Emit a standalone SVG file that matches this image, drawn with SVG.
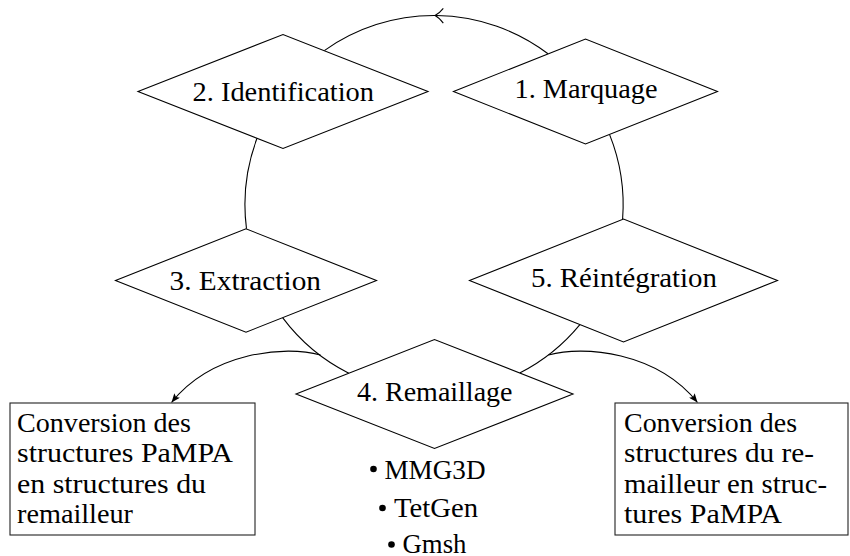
<svg xmlns="http://www.w3.org/2000/svg" width="850" height="556" viewBox="0 0 850 556">
<style>
  .shape { fill: #fff; stroke: #000; stroke-width: 1.1; }
  .box { fill: #fff; stroke: #222; stroke-width: 1.1; }
  .conn { fill: none; stroke: #000; stroke-width: 1.1; }
  text { font-family: 'Liberation Serif', 'DejaVu Serif', 'Noto Serif', 'Tinos', 'Nimbus Roman', 'Nimbus Roman No9 L', 'Times', 'FreeSerif', serif; font-size: 27px; fill: #000; }
</style>
<defs>
  <marker id="ah" viewBox="0 0 10 8" refX="10" refY="4" markerWidth="9" markerHeight="7.2" markerUnits="userSpaceOnUse" orient="auto">
    <path d="M0,0 L10,4 L0,8 L2,4 z" fill="#000"/>
  </marker>
</defs>
<rect width="850" height="556" fill="#fff"/>
<g id="connectors">
  <path class="conn" d="M548,53.8 A189,189 0 0 0 324.3,50.6"/>
  <path class="conn" d="M443.3,8.3 Q439,13.6 435,15.6 Q439,17.6 443.3,23.2"/>
  <path class="conn" d="M257,138.3 A189,189 0 0 0 246.5,228.8"/>
  <path class="conn" d="M282.6,317.6 A189,189 0 0 0 348.8,373.2"/>
  <path class="conn" d="M519.7,373 A189,189 0 0 0 579.9,324.6"/>
  <path class="conn" d="M622.6,219.3 A189,189 0 0 0 609.6,134.6"/>
  <path class="conn" d="M320.5,355 C285.5,345 212,352 171.5,402.5" marker-end="url(#ah)"/>
  <path class="conn" d="M548.5,355 C583.5,345 657,352 697.5,402.5" marker-end="url(#ah)"/>
</g>
<g id="n1">
  <polygon class="shape" points="453.5,91.5 585.5,39 717.5,91.5 585.5,144"/>
  <text x="514.5" y="98.2" textLength="143" lengthAdjust="spacingAndGlyphs">1. Marquage</text>
</g>
<g id="n2">
  <polygon class="shape" points="138,91.5 283,34.5 428,91.5 283,148.5"/>
  <text x="192.5" y="100.6" textLength="181.5" lengthAdjust="spacingAndGlyphs">2. Identification</text>
</g>
<g id="n3">
  <polygon class="shape" points="115.5,280.5 246,228.8 376.5,280.5 246,332.2"/>
  <text x="169.5" y="290" textLength="151.5" lengthAdjust="spacingAndGlyphs">3. Extraction</text>
</g>
<g id="n4">
  <polygon class="shape" points="296,394 434.5,339.5 573,394 434.5,448.5"/>
  <text x="357" y="400.8" textLength="155.5" lengthAdjust="spacingAndGlyphs">4. Remaillage</text>
</g>
<g id="n5">
  <polygon class="shape" points="469.5,280.5 623.5,219 777.5,280.5 623.5,342"/>
  <text x="531" y="287" textLength="186" lengthAdjust="spacingAndGlyphs">5. Réintégration</text>
</g>
<g id="box-left">
  <rect class="box" x="10" y="403" width="245" height="132"/>
  <text x="17" y="431.5" textLength="174" lengthAdjust="spacingAndGlyphs">Conversion des</text>
  <text x="17" y="462" textLength="216" lengthAdjust="spacingAndGlyphs">structures PaMPA</text>
  <text x="17" y="492.5" textLength="189" lengthAdjust="spacingAndGlyphs">en structures du</text>
  <text x="17" y="523" textLength="116" lengthAdjust="spacingAndGlyphs">remailleur</text>
</g>
<g id="box-right">
  <rect class="box" x="615" y="403" width="233" height="132"/>
  <text x="624" y="431.5" textLength="173" lengthAdjust="spacingAndGlyphs">Conversion des</text>
  <text x="624" y="462" textLength="190" lengthAdjust="spacingAndGlyphs">structures du re-</text>
  <text x="624" y="492.5" textLength="203" lengthAdjust="spacingAndGlyphs">mailleur en struc-</text>
  <text x="624" y="523" textLength="158" lengthAdjust="spacingAndGlyphs">tures PaMPA</text>
</g>
<g id="remailleurs">
  <circle cx="373.5" cy="469" r="3.3" fill="#000"/>
  <text x="384.5" y="478.5" textLength="101" lengthAdjust="spacingAndGlyphs">MMG3D</text>
  <circle cx="382.5" cy="508" r="3.3" fill="#000"/>
  <text x="394" y="516.7" textLength="84" lengthAdjust="spacingAndGlyphs">TetGen</text>
  <circle cx="391.5" cy="544.5" r="3.3" fill="#000"/>
  <text x="402.5" y="552.5" textLength="64" lengthAdjust="spacingAndGlyphs">Gmsh</text>
</g>
</svg>
